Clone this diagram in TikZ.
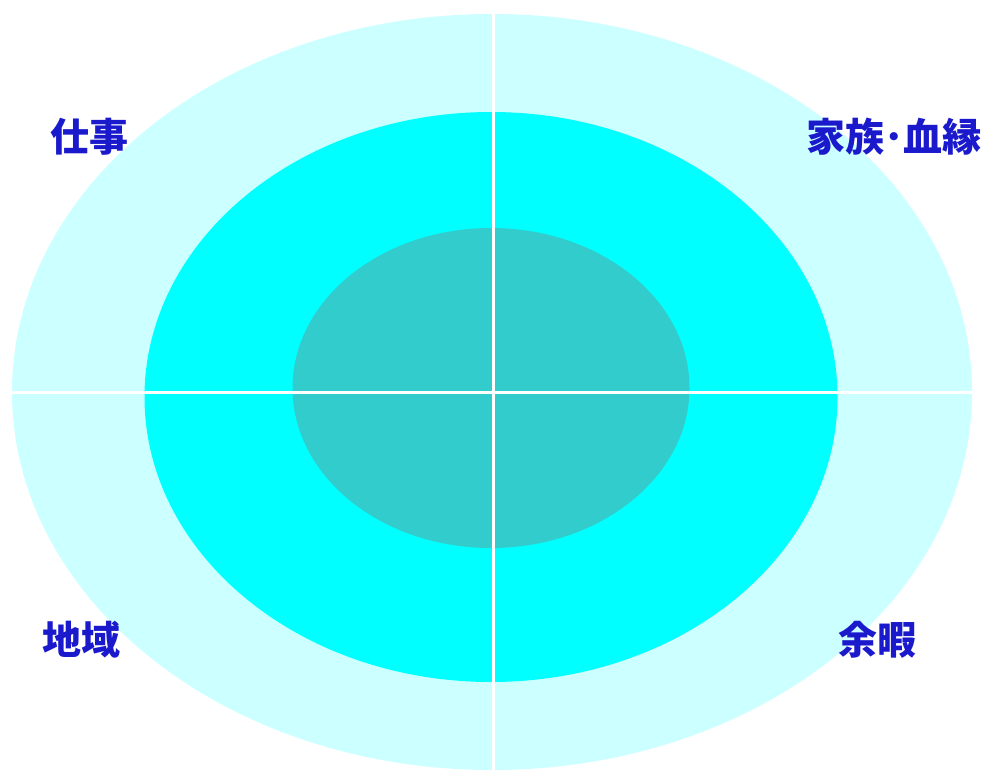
\documentclass[tikz,border=0pt]{standalone}
\usepackage{fontspec}
\usetikzlibrary{shapes.geometric}
\newfontfamily\cjk{Noto Sans CJK JP}
\definecolor{outerc}{HTML}{CCFFFF}
\definecolor{midc}{HTML}{00FFFF}
\definecolor{innerc}{HTML}{33CCCC}
\definecolor{labc}{HTML}{1A1ACC}
\tikzset{lab/.style={text=labc,font=\cjk\bfseries\fontsize{39}{42}\selectfont,inner sep=0pt},
  ring/.style={ellipse,inner sep=0pt,draw=none},
  divider/.style={draw=white,line width=3pt}}
\begin{document}
\begin{tikzpicture}[x=1pt,y=-1pt]
\useasboundingbox (0,0) rectangle (990,774);
\fill[white] (0,0) rectangle (990,774);
\node[ring,fill=outerc,minimum width=960pt,minimum height=756pt] (outer) at (492,392) {};
\node[ring,fill=midc,minimum width=693pt,minimum height=570pt] (mid) at (491,397) {};
\node[ring,fill=innerc,minimum width=397pt,minimum height=320pt] (inner) at (491,388) {};
\coordinate (hl) at (12,392);
\coordinate (hr) at (972,392);
\coordinate (vt) at (493,10);
\coordinate (vb) at (493,774);
\draw[divider] (hl) -- (hr);
\draw[divider] (vt) -- (vb);
\node[lab] (work) at (89,137) {仕事};
\node[lab] (family) at (894,137) {家族･血縁};
\node[lab] (region) at (81,640) {地域};
\node[lab] (leisure) at (877,640) {余暇};
\end{tikzpicture}
\end{document}
